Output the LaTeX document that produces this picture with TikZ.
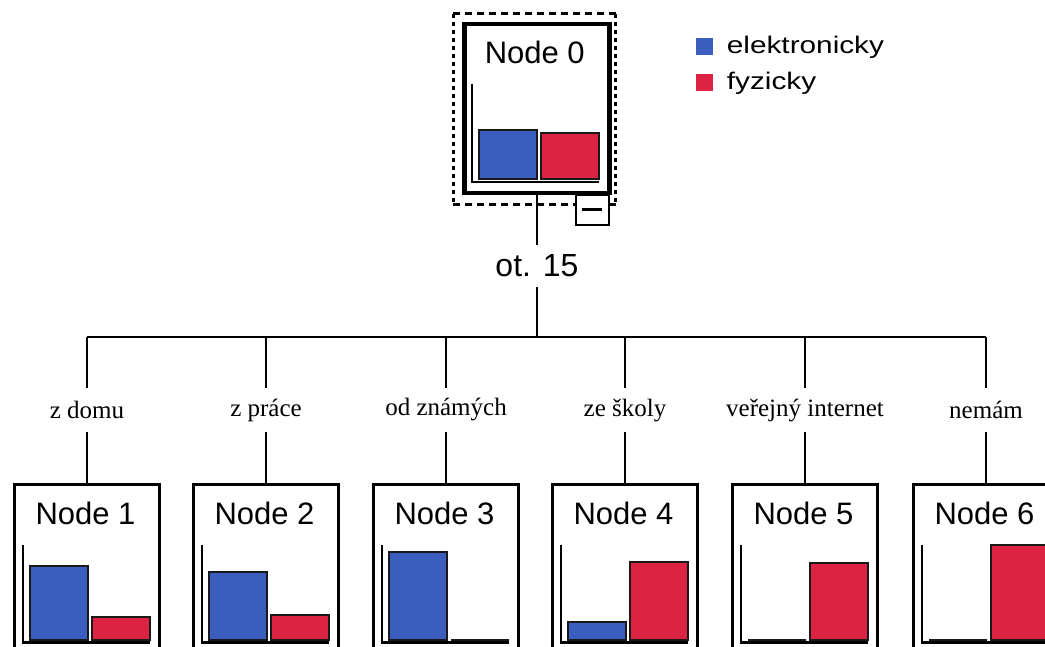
\documentclass[tikz,border=0pt]{standalone}
\usepackage{fontspec}
\setmainfont{Liberation Serif}
\newfontfamily\labelsans{Liberation Sans}
\usetikzlibrary{calc}
\definecolor{barblue}{RGB}{59,94,190}
\definecolor{barred}{RGB}{220,35,68}

% bar chart drawn inside a tree node: node name, blue top, red top, title
\newcommand\nodechart[4]{%
  \begin{scope}[shift={(#1.north west)}]
    \node[title] (#1-title) at (72.5,31) {#4};
    \draw[axis] (10,62) -- (10,160) -- (137,160);
    \draw[bar,fill=barblue] (17,157) rectangle (75,#2);
    \draw[bar,fill=barred] (79,157) rectangle (137,#3);
  \end{scope}}

\begin{document}
\begin{tikzpicture}[x=1pt,y=-1pt,
  treebox/.style={draw,line width=3pt,minimum width=145pt,minimum height=169pt,inner sep=0pt},
  title/.style={font=\labelsans\fontsize{31}{31}\selectfont,inner sep=0pt},
  axis/.style={line width=2.2pt},
  bar/.style={draw=black!90,line width=2pt},
  link/.style={line width=2.8pt},
  branch/.style={font=\fontsize{25}{25}\selectfont,minimum height=43pt,inner sep=0pt},
  legendbox/.style={minimum size=17pt,inner sep=0pt},
  legendtext/.style={font=\labelsans\fontsize{24}{24}\selectfont,inner sep=0pt,anchor=west}]
\useasboundingbox (0,0) rectangle (1045,647);
\clip (0,0) rectangle (1045,647);

% root node
\node[treebox,line width=4.5pt] (n0) at (537,108.5) {};
\nodechart{n0}{108}{111}{Node 0}
\draw[line width=3pt,dash pattern=on 7pt off 5pt]
  ($(n0.north west)+(-9,-8)$) -- ($(n0.north east)+(4,-8)$)
  ($(n0.south west)+(-9,9)$) -- ($(n0.south east)+(4,9)$);
\draw[line width=3pt,dash pattern=on 4pt off 4pt]
  ($(n0.north west)+(-9,-8)$) -- ($(n0.south west)+(-9,9)$)
  ($(n0.north east)+(4,-8)$) -- ($(n0.south east)+(4,9)$);
\draw[line width=2pt,fill=white] ($(n0.south east)+(-36,0)$) rectangle ++(33,30);
\draw[line width=3pt] ($(n0.south east)+(-30,14)$) -- ++(20,0);

% legend
\node[legendbox,fill=barblue] (lgb) at (704,46.5) {};
\node[legendbox,fill=barred] (lgr) at (704,82.5) {};
\node[legendtext] (lgbt) at ($(lgb.east)+(14,1)$) {\scalebox{1.24}[1]{elektronicky}};
\node[legendtext] (lgrt) at ($(lgr.east)+(14,1)$) {\scalebox{1.24}[1]{fyzicky}};

% split variable
\node[font=\labelsans\fontsize{32}{32}\selectfont,minimum height=42pt,inner sep=0pt] (split) at (537,266) {ot. 15};
\coordinate (bus) at (537,337);
\draw[link] (n0.south) -- (split) -- (bus);

% child nodes
\foreach \i/\x in {1/87,2/266,3/446,4/625,5/805,6/986}{
  \node[treebox] (n\i) at (\x,568.5) {};
  \coordinate (b\i) at (\x,337);
}
\draw[link] (b1) -- (b6);
\foreach \i/\t in {1/z domu,2/z práce,3/od známých,4/ze školy,5/veřejný internet,6/nemám}{
  \node[branch] (l\i) at ($(b\i)+(0,73)$) {\t};
  \draw[link] (b\i) -- (l\i) -- (n\i.north);
}

\nodechart{n1}{83}{134}{Node 1}
\nodechart{n2}{89}{132}{Node 2}
\nodechart{n3}{69}{157}{Node 3}
\nodechart{n4}{139}{79}{Node 4}
\nodechart{n5}{157}{80}{Node 5}
\nodechart{n6}{157}{62}{Node 6}
\end{tikzpicture}
\end{document}
